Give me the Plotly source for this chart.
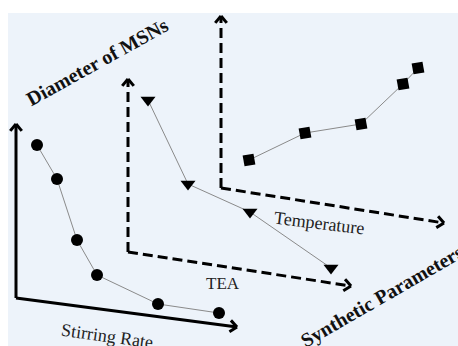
import math
import plotly.graph_objects as go

# ---- data (in chart layout units) ----
stirring_x = [37, 57, 77, 97, 158, 219]
stirring_y = [145, 179, 240, 275, 304, 313]

tea_x = [148, 188, 250, 331]
tea_y = [100, 184, 212, 268]

temp_x = [249, 305, 361, 403, 418]
temp_y = [160, 133, 124, 84, 68]

W, H = 458, 346
BG = "#edf3fa"
SERIF = "Liberation Serif, Times New Roman, serif"

fig = go.Figure()

def series(xs, ys, symbol, size, angle=0):
    fig.add_trace(go.Scatter(
        x=xs, y=ys, mode="lines+markers",
        line=dict(color="#8a8a8a", width=1),
        marker=dict(symbol=symbol, size=size, color="black", angle=angle,
                    line=dict(width=0)),
        hoverinfo="skip", showlegend=False))

series(stirring_x, stirring_y, "circle", 12)
series(tea_x, tea_y, "triangle-down", 13)
series(temp_x, temp_y, "square", 11, -10)

shapes = [dict(type="rect", xref="x", yref="y", x0=8, y0=13, x1=W + 2, y1=H + 2,
               fillcolor=BG, line=dict(width=0), layer="below")]

def arrow(p0, p1, dash=None, width=3):
    ln = dict(color="black", width=width)
    if dash:
        ln["dash"] = dash
    shapes.append(dict(type="line", xref="x", yref="y", x0=p0[0], y0=p0[1],
                       x1=p1[0], y1=p1[1], line=ln))
    dx, dy = p1[0] - p0[0], p1[1] - p0[1]
    L = math.hypot(dx, dy)
    ux, uy = dx / L, dy / L
    arm = 9
    for s in (1, -1):
        a = math.radians(40) * s
        rx = ux * math.cos(a) - uy * math.sin(a)
        ry = ux * math.sin(a) + uy * math.cos(a)
        shapes.append(dict(type="line", xref="x", yref="y",
                           x0=p1[0] - arm * rx, y0=p1[1] - arm * ry,
                           x1=p1[0], y1=p1[1],
                           line=dict(color="black", width=width)))

# Stirring Rate axes (solid)
arrow((16, 298), (16, 124))
arrow((16, 298), (237, 327))
# TEA axes (dashed)
arrow((128, 252), (128, 79), dash="10px,5px")
arrow((128, 252), (351, 286), dash="10px,5px")
# Temperature axes (dashed)
arrow((221, 188), (221, 16), dash="10px,5px")
arrow((221, 188), (444, 223), dash="10px,5px")

annotations = [
    dict(text="<b>Diameter of MSNs</b>", x=97, y=62, textangle=-29,
         font=dict(family=SERIF, size=20, color="#111")),
    dict(text="<b>Synthetic Parameters</b>", x=382, y=296, textangle=-30,
         font=dict(family=SERIF, size=20, color="#111")),
    dict(text="Stirring Rate", x=107, y=336, textangle=8,
         font=dict(family=SERIF, size=18, color="#222")),
    dict(text="TEA", x=223, y=283, textangle=0,
         font=dict(family=SERIF, size=17, color="#222")),
    dict(text="Temperature", x=319, y=223, textangle=7,
         font=dict(family=SERIF, size=18, color="#222")),
]
for a in annotations:
    a.update(xref="x", yref="y", showarrow=False, xanchor="center", yanchor="middle")

fig.update_layout(
    width=W, height=H,
    margin=dict(l=0, r=0, t=0, b=0),
    paper_bgcolor="white", plot_bgcolor="white",
    xaxis=dict(range=[0, W], visible=False, fixedrange=True),
    yaxis=dict(range=[H, 0], visible=False, fixedrange=True),
    shapes=shapes, annotations=annotations,
)

fig.write_html("out.html", config={"displayModeBar": False},
               post_script="document.body.style.margin='0';document.body.style.overflow='hidden';")
